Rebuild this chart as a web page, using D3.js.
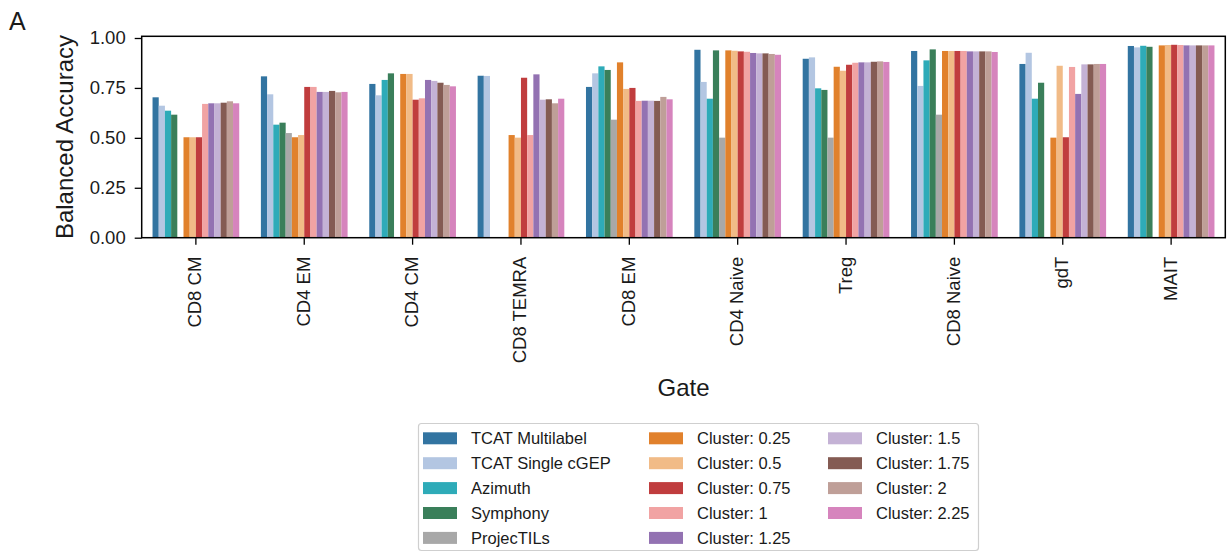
<!DOCTYPE html>
<html>
<head>
<meta charset="utf-8">
<script src="https://cdn.jsdelivr.net/npm/d3@7"></script>
<style>
  html, body { margin: 0; padding: 0; background: #fff; }
  svg { display: block; font-family: "Liberation Sans", Arial, Helvetica, sans-serif; }
</style>
</head>
<body>
<svg id="chart" width="1231" height="553"></svg>
<script>
// Gates on the x axis
const gates = ["CD8 CM", "CD4 EM", "CD4 CM", "CD8 TEMRA", "CD8 EM", "CD4 Naive", "Treg", "CD8 Naive", "gdT", "MAIT"];

// Methods (one bar per method in each gate)
const methods = [
  "TCAT Multilabel", "TCAT Single cGEP", "Azimuth", "Symphony", "ProjecTILs",
  "Cluster: 0.25", "Cluster: 0.5", "Cluster: 0.75", "Cluster: 1", "Cluster: 1.25",
  "Cluster: 1.5", "Cluster: 1.75", "Cluster: 2", "Cluster: 2.25"
];

const methodColors = [
  "#3274a1", "#b3c6e2", "#2eabb8", "#3a7f5a", "#a8a8a8",
  "#e1812c", "#f1bb87", "#c03d3e", "#f1a3a3", "#9372b2",
  "#c4b2d5", "#845b53", "#bf9f98", "#d684bd"
];

// Balanced accuracy per method, in gate order (null = not evaluated)
const tcatMultilabel = [0.703, 0.808, 0.770, 0.811, 0.755, 0.941, 0.896, 0.935, 0.870, 0.960];
const tcatSingle     = [0.661, 0.718, 0.713, 0.810, 0.823, 0.780, 0.903, 0.760, 0.926, 0.953];
const azimuth        = [0.636, 0.566, 0.790, null,  0.858, 0.696, 0.748, 0.888, 0.696, 0.961];
const symphony       = [0.616, 0.576, 0.823, null,  0.840, 0.938, 0.740, 0.943, 0.776, 0.956];
const projecTILs     = [null,  0.524, null,  null,  0.591, 0.501, 0.501, 0.616, null,  null ];
const cluster025     = [0.503, 0.503, 0.820, 0.514, 0.878, 0.938, 0.856, 0.935, 0.501, 0.963];
const cluster05      = [0.503, 0.514, 0.820, 0.501, 0.745, 0.936, 0.836, 0.935, 0.861, 0.965];
const cluster075     = [0.503, 0.755, 0.691, 0.801, 0.750, 0.933, 0.866, 0.935, 0.503, 0.966];
const cluster1       = [0.670, 0.755, 0.698, 0.514, 0.685, 0.931, 0.876, 0.935, 0.855, 0.965];
const cluster125     = [0.673, 0.730, 0.790, 0.818, 0.686, 0.925, 0.878, 0.933, 0.720, 0.963];
const cluster15      = [0.673, 0.730, 0.785, 0.691, 0.686, 0.923, 0.878, 0.933, 0.868, 0.963];
const cluster175     = [0.676, 0.735, 0.776, 0.693, 0.685, 0.923, 0.881, 0.933, 0.868, 0.963];
const cluster2       = [0.683, 0.728, 0.765, 0.673, 0.705, 0.920, 0.883, 0.933, 0.870, 0.963];
const cluster225     = [0.673, 0.730, 0.758, 0.696, 0.693, 0.916, 0.880, 0.930, 0.870, 0.963];

const yTicks = [0, 0.25, 0.5, 0.75, 1.0];

const seriesValues = [
  tcatMultilabel, tcatSingle, azimuth, symphony, projecTILs,
  cluster025, cluster05, cluster075, cluster1, cluster125,
  cluster15, cluster175, cluster2, cluster225
];

const svg = d3.select("#chart");

const plot = { left: 141.7, right: 1225.3, top: 36.3, bottom: 237.7 };

const x = d3.scaleBand()
  .domain(gates)
  .range([plot.left, plot.right])
  .paddingInner(0.2)
  .paddingOuter(0.1);

const xInner = d3.scaleBand()
  .domain(methods)
  .range([0, x.bandwidth()])
  .padding(0);

const y = d3.scaleLinear()
  .domain([0, 1.0085])
  .range([plot.bottom, plot.top]);

// Bars
const bars = [];
methods.forEach((m, i) => {
  gates.forEach((g, j) => {
    const v = seriesValues[i][j];
    if (v != null) bars.push({ method: m, gate: g, value: v, color: methodColors[i] });
  });
});

svg.append("g")
  .selectAll("rect")
  .data(bars)
  .join("rect")
  .attr("x", d => x(d.gate) + xInner(d.method))
  .attr("width", xInner.bandwidth())
  .attr("y", d => y(d.value))
  .attr("height", d => y(0) - y(d.value))
  .attr("fill", d => d.color);

// Y axis
const yAxis = svg.append("g")
  .attr("transform", `translate(${plot.left},0)`)
  .call(d3.axisLeft(y).tickValues(yTicks).tickFormat(d3.format(".2f")).tickSize(7).tickPadding(9));
yAxis.select(".domain").remove();
yAxis.selectAll(".tick line").attr("stroke", "#000").attr("stroke-width", 1.3);
yAxis.selectAll(".tick text")
  .attr("font-size", "18.5px")
  .attr("fill", "#1a1a1a")
  .attr("font-family", "Liberation Sans, Arial, sans-serif");

// X axis
const xAxis = svg.append("g")
  .attr("transform", `translate(0,${plot.bottom})`)
  .call(d3.axisBottom(x).tickSize(7).tickPadding(0));
xAxis.select(".domain").remove();
xAxis.selectAll(".tick line").attr("stroke", "#000").attr("stroke-width", 1.3);
xAxis.selectAll(".tick text")
  .attr("font-size", "18.5px")
  .attr("fill", "#1a1a1a")
  .attr("font-family", "Liberation Sans, Arial, sans-serif")
  .attr("text-anchor", "end")
  .attr("dy", null)
  .attr("dominant-baseline", "central")
  .attr("transform", "translate(-1,19) rotate(-90)")
  .attr("y", 0)
  .attr("x", 0);

// Plot frame
svg.append("rect")
  .attr("x", plot.left)
  .attr("y", plot.top)
  .attr("width", plot.right - plot.left)
  .attr("height", plot.bottom - plot.top)
  .attr("fill", "none")
  .attr("stroke", "#000")
  .attr("stroke-width", 1.5);

// Axis titles
svg.append("text")
  .attr("transform", `translate(73,${(plot.top + plot.bottom) / 2}) rotate(-90)`)
  .attr("text-anchor", "middle")
  .attr("font-size", "24px")
  .attr("fill", "#1a1a1a")
  .text("Balanced Accuracy");

svg.append("text")
  .attr("x", (plot.left + plot.right) / 2)
  .attr("y", 396)
  .attr("text-anchor", "middle")
  .attr("font-size", "24px")
  .attr("fill", "#1a1a1a")
  .text("Gate");

// Panel letter
svg.append("text")
  .attr("x", 9)
  .attr("y", 30)
  .attr("font-size", "25px")
  .attr("fill", "#1a1a1a")
  .text("A");

// Legend
const legend = svg.append("g");
legend.append("rect")
  .attr("x", 418.5)
  .attr("y", 423.5)
  .attr("width", 560)
  .attr("height", 127)
  .attr("rx", 3)
  .attr("fill", "#fff")
  .attr("stroke", "#cfcfcf")
  .attr("stroke-width", 1.2);

const colX = [423, 649, 828];
const rowY0 = 438.3, rowStep = 24.9;
methods.forEach((m, i) => {
  const col = i < 5 ? 0 : (i < 10 ? 1 : 2);
  const row = i < 5 ? i : (i < 10 ? i - 5 : i - 10);
  const cy = rowY0 + row * rowStep;
  const gItem = legend.append("g");
  gItem.append("rect")
    .attr("x", colX[col])
    .attr("y", cy - 6)
    .attr("width", 34)
    .attr("height", 12)
    .attr("fill", methodColors[i]);
  gItem.append("text")
    .attr("x", colX[col] + 48)
    .attr("y", cy)
    .attr("dominant-baseline", "central")
    .attr("font-size", "16.5px")
    .attr("fill", "#1a1a1a")
    .text(m);
});
</script>
</body>
</html>
